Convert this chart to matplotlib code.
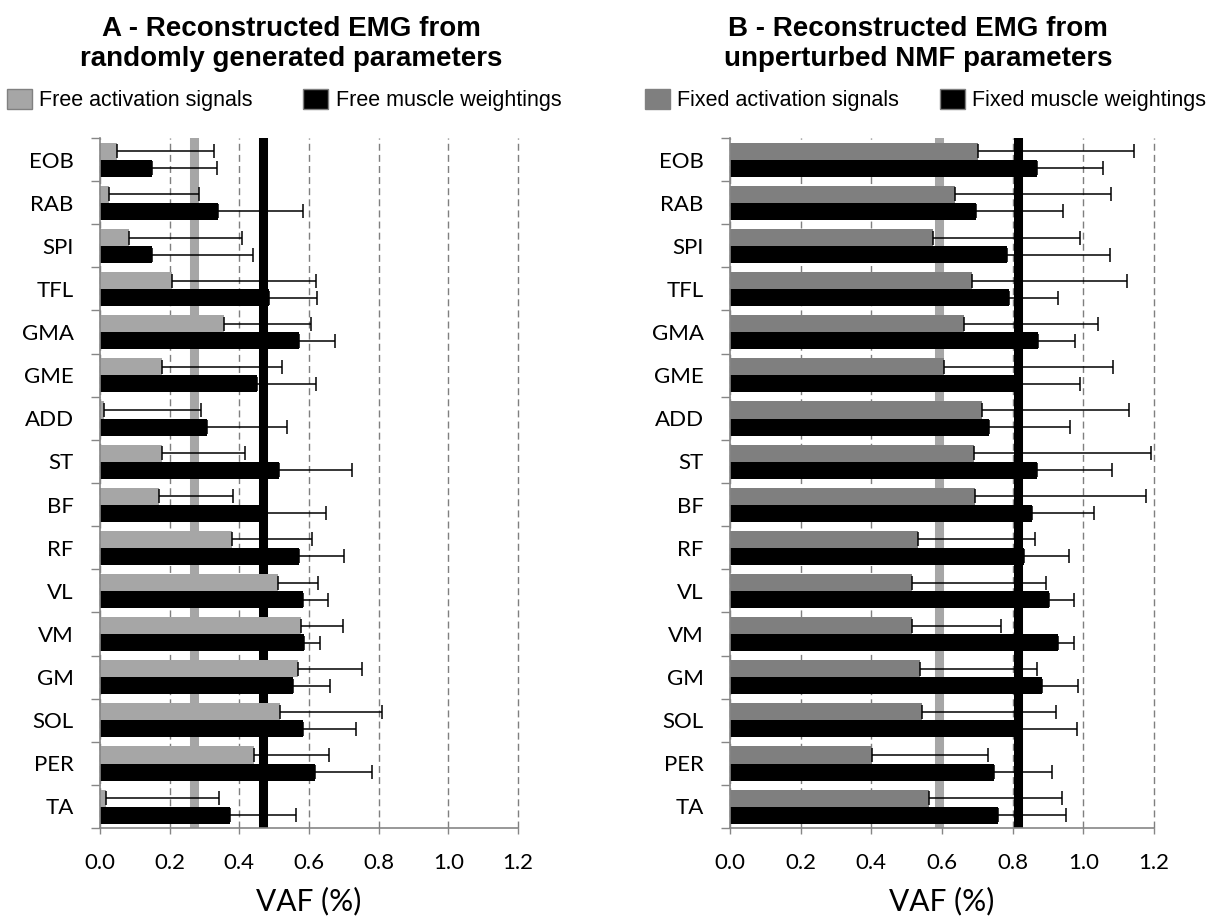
import matplotlib
matplotlib.use("Agg")
import matplotlib.pyplot as plt
import numpy as np
from matplotlib.patches import Patch

plt.rcParams['font.family'] = ['Lato', 'DejaVu Sans']

muscles = ["EOB", "RAB", "SPI", "TFL", "GMA", "GME", "ADD", "ST",
           "BF", "RF", "VL", "VM", "GM", "SOL", "PER", "TA"]

# panel A - random parameters
free_act = [0.049, 0.027, 0.082, 0.208, 0.355, 0.179, 0.011, 0.178,
            0.169, 0.380, 0.511, 0.578, 0.568, 0.517, 0.442, 0.018]
free_act_sd = [0.278, 0.258, 0.327, 0.411, 0.251, 0.343, 0.279, 0.237,
               0.213, 0.229, 0.116, 0.119, 0.185, 0.294, 0.216, 0.324]
free_w = [0.148, 0.338, 0.148, 0.484, 0.570, 0.452, 0.308, 0.513,
          0.475, 0.572, 0.584, 0.587, 0.555, 0.584, 0.617, 0.373]
free_w_sd = [0.189, 0.246, 0.292, 0.139, 0.105, 0.167, 0.230, 0.210,
             0.173, 0.128, 0.071, 0.044, 0.104, 0.151, 0.163, 0.189]
mean_act_A = 0.271
mean_w_A = 0.469

# panel B - unperturbed NMF parameters
fixed_act = [0.701, 0.636, 0.574, 0.684, 0.663, 0.605, 0.713, 0.690,
             0.693, 0.532, 0.516, 0.516, 0.537, 0.544, 0.401, 0.564]
fixed_act_sd = [0.443, 0.442, 0.416, 0.440, 0.379, 0.480, 0.415, 0.501,
                0.483, 0.332, 0.377, 0.250, 0.331, 0.378, 0.329, 0.377]
fixed_w = [0.868, 0.695, 0.784, 0.790, 0.873, 0.810, 0.732, 0.869,
           0.855, 0.833, 0.903, 0.929, 0.882, 0.810, 0.746, 0.759]
fixed_w_sd = [0.189, 0.247, 0.292, 0.138, 0.104, 0.180, 0.231, 0.212,
              0.176, 0.127, 0.071, 0.044, 0.103, 0.171, 0.165, 0.191]
mean_act_B = 0.592
mean_w_B = 0.816

xticks = [0.0, 0.2, 0.4, 0.6, 0.8, 1.0, 1.2]

AXIS_GRAY = "#868686"
BAND_GRAY = "#a6a6a6"


def draw_panel(ax, act, act_sd, w, w_sd, m_act, m_w, act_color):
    n = len(muscles)
    y = np.arange(n)
    h = 0.395
    y_act = y + 0.11 + h / 2
    y_w = y + 0.11 + h + h / 2

    # mean VAF lines behind the bars
    ax.axvline(m_act, color=BAND_GRAY, lw=6.5, zorder=1)
    ax.axvline(m_w, color="black", lw=6.5, zorder=1)

    ax.barh(y_act, act, height=h, color=act_color, zorder=2)
    ax.barh(y_w, w, height=h, color="black", zorder=2)
    ax.errorbar(act, y_act, xerr=[np.zeros(n), act_sd], fmt="none",
                ecolor="black", elinewidth=1.1, capsize=5, capthick=1.1, zorder=3)
    ax.errorbar(w, y_w, xerr=[np.zeros(n), w_sd], fmt="none",
                ecolor="black", elinewidth=1.1, capsize=5, capthick=1.1, zorder=3)

    ax.set_xlim(0, 1.2)
    ax.set_ylim(n, 0)
    ax.set_xticks(xticks)
    ax.set_xticklabels([f"{t:.1f}" for t in xticks], fontsize=16)
    ax.set_yticks(y + 0.5)
    ax.set_yticklabels(muscles, fontsize=16)
    ax.set_yticks(np.arange(n + 1), minor=True)
    ax.tick_params(axis="y", which="major", length=0, pad=19)
    ax.tick_params(axis="y", which="minor", length=6.5, width=1, color=AXIS_GRAY)
    ax.tick_params(axis="x", length=4, width=1, color=AXIS_GRAY, pad=14)

    ax.set_axisbelow(True)
    ax.grid(axis="x", color="#7f7f7f", lw=1, linestyle=(0, (5, 3)))
    for gl in ax.get_xgridlines():
        gl.set_clip_on(False)
    for s in ["top", "right"]:
        ax.spines[s].set_visible(False)
    for s in ["left", "bottom"]:
        ax.spines[s].set_color(AXIS_GRAY)
        ax.spines[s].set_linewidth(1.2)
    ax.set_xlabel("VAF (%)", fontsize=21.5, labelpad=10)


fig = plt.figure(figsize=(12.09, 9.21), dpi=100)
axA = fig.add_axes([100 / 1209, 93 / 921, 418 / 1209, 690 / 921])
axB = fig.add_axes([730 / 1209, 93 / 921, 424 / 1209, 690 / 921])

draw_panel(axA, free_act, free_act_sd, free_w, free_w_sd,
           mean_act_A, mean_w_A, "#a6a6a6")
draw_panel(axB, fixed_act, fixed_act_sd, fixed_w, fixed_w_sd,
           mean_act_B, mean_w_B, "#7f7f7f")

title_font = dict(family=["Liberation Sans", "DejaVu Sans"], fontsize=20,
                  fontweight="bold", ha="center", va="center", linespacing=1.2)
fig.text(291 / 1209, 1 - 44 / 921,
         "A - Reconstructed EMG from\nrandomly generated parameters", **title_font)
fig.text(918 / 1209, 1 - 44 / 921,
         "B - Reconstructed EMG from\nunperturbed NMF parameters", **title_font)

leg_font = {"family": ["Liberation Sans", "DejaVu Sans"], "size": 15.5}
handlesA = [Patch(facecolor="#a6a6a6", edgecolor="#808080"),
            Patch(facecolor="black", edgecolor="#808080")]
handlesB = [Patch(facecolor="#7f7f7f", edgecolor="#808080"),
            Patch(facecolor="black", edgecolor="#808080")]
fig.legend(handlesA, ["Free activation signals", "Free muscle weightings"],
           loc="center left", bbox_to_anchor=(7 / 1209, 1 - 100 / 921),
           ncol=2, frameon=False, prop=leg_font, handlelength=1.15,
           handleheight=1.1, handletextpad=0.35, columnspacing=2.35,
           borderaxespad=0, borderpad=0)
fig.legend(handlesB, ["Fixed activation signals", "Fixed muscle weightings"],
           loc="center left", bbox_to_anchor=(645 / 1209, 1 - 100 / 921),
           ncol=2, frameon=False, prop=leg_font, handlelength=1.15,
           handleheight=1.1, handletextpad=0.35, columnspacing=1.9,
           borderaxespad=0, borderpad=0)

fig.savefig("out.png", dpi=100)
